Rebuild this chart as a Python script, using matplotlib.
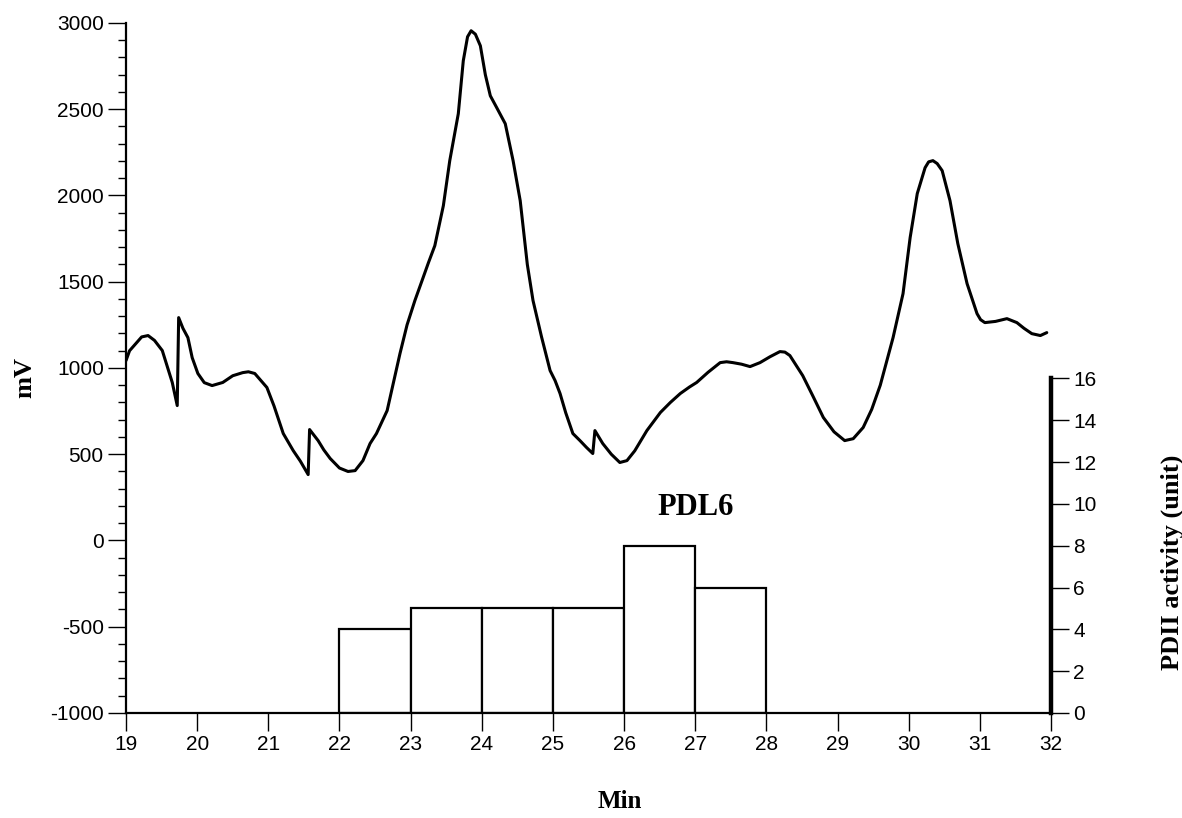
import matplotlib
matplotlib.use("Agg")
import matplotlib.pyplot as plt
from matplotlib.ticker import MultipleLocator

plt.rcParams["axes.unicode_minus"] = False

# Chromatogram trace (detector signal, mV) versus retention time (min)
time_min = [
    19.00, 19.05, 19.15, 19.22, 19.31, 19.40, 19.51, 19.65, 19.72, 19.74,
    19.80, 19.87, 19.93, 20.01, 20.10, 20.21, 20.36, 20.50, 20.64, 20.72,
    20.81, 20.98, 21.08, 21.21, 21.35, 21.45, 21.56, 21.58, 21.70, 21.78,
    21.87, 22.00, 22.12, 22.22, 22.33, 22.43, 22.52, 22.67, 22.85, 22.95,
    23.06, 23.16, 23.25, 23.34, 23.46, 23.55, 23.67, 23.74, 23.80, 23.85,
    23.91, 23.98, 24.05, 24.12, 24.21, 24.33, 24.44, 24.54, 24.64, 24.72,
    24.84, 24.96, 25.03, 25.10, 25.18, 25.28, 25.38, 25.47, 25.56, 25.59,
    25.70, 25.82, 25.94, 26.04, 26.15, 26.32, 26.51, 26.65, 26.79, 26.92,
    27.02, 27.18, 27.35, 27.44, 27.53, 27.65, 27.77, 27.91, 28.05, 28.19,
    28.26, 28.33, 28.51, 28.65, 28.80, 28.95, 29.10, 29.22, 29.36, 29.48,
    29.60, 29.78, 29.92, 30.02, 30.12, 30.23, 30.28, 30.34, 30.40, 30.47,
    30.58, 30.69, 30.82, 30.96, 31.01, 31.07, 31.22, 31.38, 31.52, 31.62,
    31.73, 31.85, 31.94,
]
signal_mv = [
    1043, 1100, 1147, 1180, 1188, 1160, 1101, 916, 782, 1292,
    1230, 1176, 1060, 968, 915, 898, 916, 955, 973, 978,
    968, 887, 780, 620, 521, 460, 382, 643, 579, 525,
    475, 420, 400, 405, 463, 562, 620, 753, 1083, 1250,
    1391, 1506, 1610, 1709, 1941, 2202, 2474, 2781, 2920, 2955,
    2935, 2868, 2700, 2578, 2509, 2416, 2202, 1970, 1600, 1391,
    1180, 985, 927, 852, 740, 620, 579, 540, 504, 637,
    562, 500, 452, 463, 520, 637, 742, 800, 852, 890,
    916, 975, 1031, 1036, 1031, 1022, 1008, 1031, 1065, 1095,
    1092, 1072, 956, 840, 713, 630, 579, 590, 655, 760,
    900, 1176, 1431, 1756, 2011, 2161, 2195, 2202, 2185, 2144,
    1970, 1721, 1489, 1315, 1280, 1263, 1270, 1286, 1263, 1230,
    1199, 1188, 1205,
]

# PDII activity of collected fractions (one-minute fractions)
fraction_start = [22, 23, 24, 25, 26, 27]
pdii_activity = [4, 5, 5, 5, 8, 6]

x_ticks = list(range(19, 33))
mv_ticks = list(range(-1000, 3001, 500))
activity_ticks = list(range(0, 17, 2))

sans = "Liberation Sans"
serif = "Liberation Serif"

fig = plt.figure(figsize=(11.82, 8.18), dpi=100)
ax = fig.add_axes([0.1066, 0.1284, 0.7826, 0.8435])

ax.plot(time_min, signal_mv, color="black", lw=2.2, solid_joinstyle="round",
        solid_capstyle="round", zorder=3)
ax.set_xlim(19, 32)
ax.set_ylim(-1000, 3000)
ax.set_xticks(x_ticks)
ax.set_yticks(mv_ticks)
ax.yaxis.set_minor_locator(MultipleLocator(100))
ax.tick_params(axis="both", which="major", direction="out", length=13, width=1.0,
               labelsize=15, pad=3)
ax.tick_params(axis="y", which="minor", direction="out", length=6, width=1.0)
for lab in ax.get_xticklabels() + ax.get_yticklabels():
    lab.set_fontfamily(sans)
ax.spines["top"].set_visible(False)
ax.spines["right"].set_visible(False)
ax.spines["left"].set_linewidth(1.6)
ax.spines["bottom"].set_linewidth(1.6)

# Secondary scale for the enzyme activity bars
ax2 = ax.twinx()
ax2.bar(fraction_start, pdii_activity, width=1.0, align="edge",
        facecolor="white", edgecolor="black", linewidth=1.6, zorder=2)
ax2.set_ylim(0, 33)
ax2.set_yticks(activity_ticks)
ax2.tick_params(axis="y", direction="out", length=13, width=1.0, labelsize=15, pad=3)
for lab in ax2.get_yticklabels():
    lab.set_fontfamily(sans)
for side in ("top", "left", "bottom"):
    ax2.spines[side].set_visible(False)
ax2.spines["right"].set_bounds(0, 16)
ax2.spines["right"].set_linewidth(3.2)
ax.set_zorder(ax2.get_zorder() + 1)
ax.patch.set_visible(False)

ax.text(27.0, 190, "PDL6", ha="center", va="center", fontsize=22,
        fontweight="bold", fontfamily=serif)

fig.text(0.524, 0.02, "Min", ha="center", va="center", fontsize=18,
         fontweight="bold", fontfamily=serif)
fig.text(0.021, 0.538, "mV", ha="center", va="center", rotation=90, fontsize=19,
         fontweight="bold", fontfamily=serif)
fig.text(0.992, 0.312, "PDII activity (unit)", ha="center", va="center",
         rotation=90, fontsize=19, fontweight="bold", fontfamily=serif)

fig.savefig("out.png", dpi=100, facecolor="white")
